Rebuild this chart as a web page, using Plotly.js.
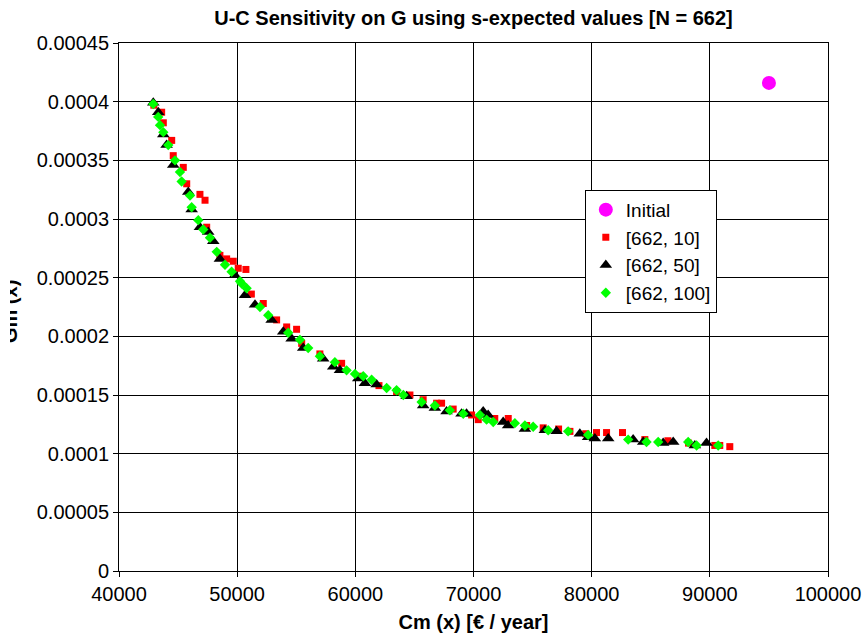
<!DOCTYPE html>
<html>
<head>
<meta charset="utf-8">
<script src="https://cdn.plot.ly/plotly-3.0.1.min.js"></script>
<style>
  html, body { margin: 0; padding: 0; background: #fff; }
  #chart { width: 866px; height: 636px; }
  #edge { position: absolute; left: 0; top: 0; width: 10px; height: 636px; background: #fff; z-index: 10; }
</style>
</head>
<body>
<div id="chart"></div>
<div id="edge"></div>
<script>
// Starting point
const initialX = [95000];
const initialY = [0.000416];

// Run [662, 10]
const run10X = [42950, 43610, 43750, 44460, 44590, 45440, 45730, 46850, 47280, 47420,
  48540, 49110, 49670, 50090, 50740, 51200, 52210, 53340, 54190, 55030,
  55460, 57000, 58840, 60400, 62000, 63490, 64620, 65740, 66880, 67300,
  68280, 69840, 70400, 71800, 72940, 74500, 75900, 77200, 78160, 79500,
  80410, 81260, 82610, 84500, 86450, 88200, 90420, 90840, 91690];
const run10Y = [0.000397, 0.000391, 0.000382, 0.000367, 0.000354, 0.000344, 0.000330, 0.000321, 0.000316, 0.000293,
  0.000269, 0.000266, 0.000264, 0.000258, 0.000257, 0.000236, 0.000228, 0.000214, 0.000208, 0.000206,
  0.000194, 0.000185, 0.000177, 0.000166, 0.000158, 0.000153, 0.000150, 0.000146, 0.000143, 0.000143,
  0.000138, 0.000133, 0.000129, 0.000130, 0.000130, 0.000124, 0.000122, 0.000121, 0.000119, 0.000117,
  0.000118, 0.000118, 0.000118, 0.000112, 0.000111, 0.000109, 0.000107, 0.000107, 0.000106];

// Run [662, 50]
const run50X = [42900, 43320, 43750, 44030, 44590, 45860, 46150, 46850, 47550, 47980,
  48540, 49810, 50660, 51510, 52920, 53900, 54610, 55590, 57280, 58130,
  58700, 60250, 60810, 61800, 64340, 65740, 66730, 67720, 68990, 69410,
  70820, 71240, 72510, 72930, 74350, 76040, 77030, 79000, 79700, 80270,
  81400, 83510, 84360, 86050, 86900, 88730, 89720];
const run50Y = [0.000399, 0.000391, 0.000372, 0.000363, 0.000346, 0.000323, 0.000308, 0.000293, 0.000289, 0.000281,
  0.000266, 0.000252, 0.000235, 0.000227, 0.000214, 0.000204, 0.000198, 0.000190, 0.000181, 0.000174,
  0.000171, 0.000164, 0.000160, 0.000159, 0.000149, 0.000141, 0.000139, 0.000136, 0.000134, 0.000134,
  0.000136, 0.000133, 0.000127, 0.000124, 0.000121, 0.000120, 0.000119, 0.000117, 0.000114, 0.000113,
  0.000113, 0.000112, 0.000110, 0.000109, 0.000110, 0.000107, 0.000109];

// Run [662, 100]
const run100X = [42900, 43320, 43470, 43750, 44170, 44740, 45160, 45300, 46010, 46150,
  46710, 47130, 47700, 48270, 48970, 49530, 50240, 50380, 50800, 51930,
  52630, 54320, 55310, 56010, 57000, 58270, 59260, 59970, 60670, 61380,
  62650, 63490, 64060, 65610, 66730, 68000, 69130, 70540, 71110, 71670,
  73500, 74350, 75050, 76320, 78010, 79700, 83090, 84640, 85630, 88170,
  88880, 90710];
const run100Y = [0.000398, 0.000387, 0.000380, 0.000374, 0.000363, 0.000350, 0.000340, 0.000332, 0.000320, 0.000310,
  0.000299, 0.000291, 0.000284, 0.000272, 0.000261, 0.000255, 0.000247, 0.000245, 0.000241, 0.000225,
  0.000218, 0.000203, 0.000197, 0.000190, 0.000183, 0.000178, 0.000171, 0.000168, 0.000166, 0.000163,
  0.000156, 0.000154, 0.000150, 0.000144, 0.000141, 0.000137, 0.000134, 0.000133, 0.000129, 0.000127,
  0.000126, 0.000124, 0.000123, 0.000120, 0.000119, 0.000116, 0.000112, 0.000110, 0.000110, 0.000110,
  0.000107, 0.000107];

// Axis ticks
const xTickVals = [40000, 50000, 60000, 70000, 80000, 90000, 100000];
const xTickText = ['40000', '50000', '60000', '70000', '80000', '90000', '100000'];
const yTickVals = [0, 0.00005, 0.0001, 0.00015, 0.0002, 0.00025, 0.0003, 0.00035, 0.0004, 0.00045];
const yTickText = ['0', '0.00005', '0.0001', '0.00015', '0.0002', '0.00025', '0.0003', '0.00035', '0.0004', '0.00045'];

const FONT = 'Liberation Sans, Arial, Helvetica, sans-serif';

const traces = [
  { name: 'Initial', x: initialX, y: initialY, type: 'scatter', mode: 'markers',
    marker: { symbol: 'circle', size: 14, color: '#ff00ff' } },
  { name: '[662, 10]', x: run10X, y: run10Y, type: 'scatter', mode: 'markers',
    marker: { symbol: 'square', size: 7, color: '#ff0000' } },
  { name: '[662, 50]', x: run50X, y: run50Y, type: 'scatter', mode: 'markers',
    marker: { symbol: 'triangle-up', size: 11, color: '#000000' } },
  { name: '[662, 100]', x: run100X, y: run100Y, type: 'scatter', mode: 'markers',
    marker: { symbol: 'diamond', size: 8, color: '#00ff00' } }
];

const axisCommon = {
  showgrid: true, gridcolor: '#000', gridwidth: 1,
  showline: true, linecolor: '#000', linewidth: 1, mirror: true,
  ticks: 'outside', ticklen: 5, tickcolor: '#000', tickwidth: 1,
  zeroline: false,
  tickfont: { family: FONT, size: 20, color: '#000' }
};

const layout = {
  width: 866, height: 636,
  margin: { l: 119, r: 38, t: 43, b: 65, pad: 0 },
  paper_bgcolor: '#fff', plot_bgcolor: '#fff',
  font: { family: FONT, color: '#000' },
  title: {
    text: '<b>U-C Sensitivity on G using s-expected values [N = 662]</b>',
    font: { family: FONT, size: 20, color: '#000' },
    x: 0.5, xref: 'paper', y: 0.972, yref: 'container', yanchor: 'middle'
  },
  xaxis: Object.assign({}, axisCommon, {
    range: [40000, 100000], tickvals: xTickVals, ticktext: xTickText,
    title: { text: '<b>Cm (x) [€ / year]</b>', font: { family: FONT, size: 20, color: '#000' }, standoff: 10 },
    automargin: false
  }),
  yaxis: Object.assign({}, axisCommon, {
    range: [0, 0.00045], tickvals: yTickVals, ticktext: yTickText,
    automargin: false
  }),
  legend: {
    x: 0.657, y: 0.722, xanchor: 'left', yanchor: 'top',
    bgcolor: '#fff', bordercolor: '#000', borderwidth: 1,
    font: { family: FONT, size: 19, color: '#000' },
    tracegroupgap: 0, itemsizing: 'trace'
  },
  annotations: [{
    text: '<b>Gm (x)</b>', textangle: -90, showarrow: false,
    xref: 'paper', yref: 'paper', x: -0.154, y: 0.492,
    xanchor: 'center', yanchor: 'middle',
    font: { family: FONT, size: 20, color: '#000' }
  }],
  showlegend: true
};

Plotly.newPlot('chart', traces, layout, { displayModeBar: false, staticPlot: true });
</script>
</body>
</html>
